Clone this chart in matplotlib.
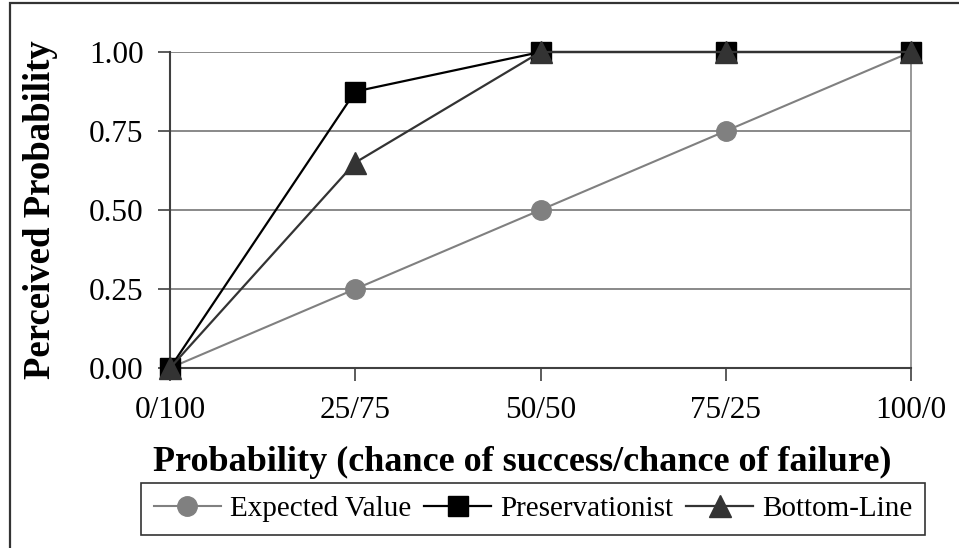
import matplotlib
matplotlib.use("Agg")
import matplotlib.pyplot as plt
from matplotlib.patches import Rectangle

plt.rcParams['font.family'] = ['Liberation Serif', 'DejaVu Serif']

categories = ["0/100", "25/75", "50/50", "75/25", "100/0"]
expected_value = [0.0, 0.25, 0.50, 0.75, 1.00]
preservationist = [0.0, 0.875, 1.00, 1.00, 1.00]
bottom_line = [0.0, 0.65, 1.00, 1.00, 1.00]
y_ticks = [0.0, 0.25, 0.50, 0.75, 1.00]
y_tick_labels = ["0.00", "0.25", "0.50", "0.75", "1.00"]

W, H = 959, 548
fig = plt.figure(figsize=(W / 100, H / 100), dpi=100)

# outer chart frame (only left and top edges fall inside the canvas)
fig.patches.append(Rectangle((9.5 / W, -0.1), 1.2, 1 - 3.5 / H + 0.1,
                             transform=fig.transFigure, fill=False,
                             edgecolor="#333333", linewidth=1.6))

ax = fig.add_axes([170 / W, 1 - 368 / H, (911 - 170) / W, (368 - 52) / H])
x = list(range(len(categories)))

ax.plot(x, expected_value, color="#808080", lw=1.5, marker="o", ms=14,
        mfc="#808080", mec="#808080", label="Expected Value", clip_on=False, zorder=3)
ax.plot(x, preservationist, color="#000000", lw=1.6, marker="s", ms=14,
        mfc="#000000", mec="#000000", label="Preservationist", clip_on=False, zorder=4)
ax.plot(x, bottom_line, color="#333333", lw=1.6, marker="^", ms=16,
        mfc="#333333", mec="#333333", label="Bottom-Line", clip_on=False, zorder=5)

ax.set_xlim(0, 4)
ax.set_ylim(0, 1)
ax.set_xticks(x)
ax.set_xticklabels(categories)
ax.set_yticks(y_ticks)
ax.set_yticklabels(y_tick_labels)
ax.tick_params(axis="both", labelsize=22.5, length=9, width=1.2, color="#404040")
ax.tick_params(axis="y", pad=10)
ax.tick_params(axis="x", pad=11)

ax.yaxis.grid(True, color="#808080", lw=1.3)
ax.set_axisbelow(True)
ax.spines["top"].set_visible(False)
ax.spines["right"].set_color("#909090")
ax.spines["right"].set_linewidth(1.3)
ax.spines["left"].set_color("#404040")
ax.spines["left"].set_linewidth(1.5)
ax.spines["bottom"].set_color("#404040")
ax.spines["bottom"].set_linewidth(1.5)

fig.text(522 / W, 1 - 462 / H, "Probability (chance of success/chance of failure)",
         ha="center", va="center", fontsize=26, fontweight="bold")
fig.text(41 / W, 1 - 210 / H, "Perceived Probability", rotation=90,
         ha="center", va="center", fontsize=26.5, fontweight="bold")

leg = fig.legend(loc="center", bbox_to_anchor=(533 / W, 1 - 509 / H), ncol=3,
                 fontsize=21, frameon=True, fancybox=False, edgecolor="#000000",
                 handlelength=2.3, handletextpad=0.3, columnspacing=0.45,
                 borderpad=0.45, borderaxespad=0)
leg.get_frame().set_linewidth(1.2)

fig.savefig("out.png", dpi=100)
